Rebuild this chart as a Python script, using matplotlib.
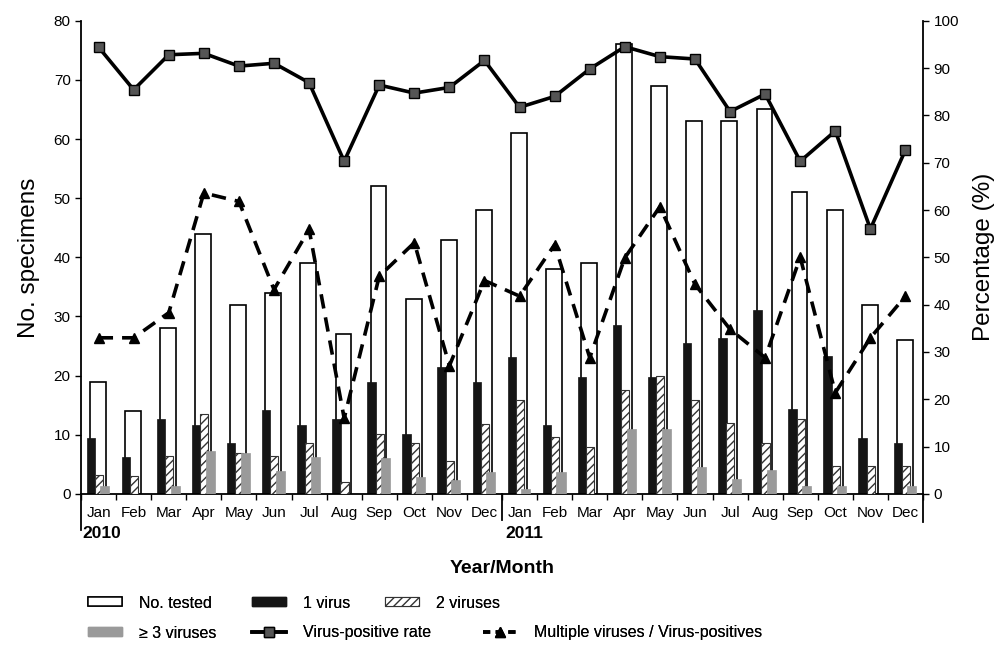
import numpy as np
import matplotlib.pyplot as plt
from matplotlib.patches import Patch
from matplotlib.lines import Line2D

plt.rcParams['font.family'] = ['Liberation Sans', 'DejaVu Sans']

months = ['Jan', 'Feb', 'Mar', 'Apr', 'May', 'Jun', 'Jul', 'Aug', 'Sep', 'Oct', 'Nov', 'Dec'] * 2
years = ['2010', '2011']

tested = [19, 14, 28, 44, 32, 34, 39, 27, 52, 33, 43, 48,
          61, 38, 39, 76, 69, 63, 63, 65, 51, 48, 32, 26]
one_virus = [9.4, 6.2, 12.6, 11.7, 8.7, 14.2, 11.7, 12.6, 19.0, 10.2, 21.4, 19.0,
             23.1, 11.7, 19.8, 28.6, 19.8, 25.5, 26.3, 31.1, 14.4, 23.4, 9.4, 8.7]
two_virus = [3.2, 3.1, 6.5, 13.5, 7.0, 6.5, 8.7, 2.1, 10.2, 8.6, 5.5, 11.8,
             15.9, 9.6, 8.0, 17.5, 20.0, 15.9, 12.0, 8.7, 12.7, 4.8, 4.8, 4.8]
three_plus = [1.3, 0, 1.4, 7.2, 7.0, 3.9, 6.3, 0, 6.0, 2.9, 2.3, 3.8,
              0.8, 3.8, 0, 11.0, 11.0, 4.5, 2.5, 4.1, 1.4, 1.4, 0, 1.3]
pos_rate = [94.4, 85.4, 92.8, 93.1, 90.4, 91.0, 86.9, 70.3, 86.4, 84.7, 85.9, 91.6,
            81.7, 84.0, 89.8, 94.5, 92.4, 91.9, 80.8, 84.5, 70.3, 76.7, 56.0, 72.7]
multi = [33.0, 33.0, 38.3, 63.6, 61.8, 43.2, 55.9, 16.0, 46.0, 53.1, 27.1, 45.1,
         41.8, 52.7, 28.8, 49.9, 60.7, 44.3, 34.8, 28.8, 50.0, 21.4, 33.0, 41.8]

x = np.arange(len(months))

fig = plt.figure(figsize=(9.97, 6.46), dpi=100)
ax = fig.add_axes([0.0813, 0.2353, 0.8445, 0.7327])

ax.bar(x - 0.02, tested, 0.45, color='white', edgecolor='black', linewidth=1.2, zorder=1)
ax.bar(x - 0.22, one_virus, 0.24, color='#151515', edgecolor='#151515', linewidth=0.5, zorder=2)
ax.bar(x + 0.01, two_virus, 0.23, color='white', edgecolor='#333333', linewidth=0.8,
       hatch='////', zorder=3)
ax.bar(x + 0.18, three_plus, 0.26, color='#9a9a9a', edgecolor='#9a9a9a', linewidth=0.5, zorder=4)

ax.set_xlim(-0.5, len(months) - 0.5)
ax.set_ylim(0, 80)
ax.set_yticks(range(0, 81, 10))
ax.set_xticks(np.arange(-0.5, len(months), 1.0))
ax.set_xticklabels([])
ax.tick_params(axis='x', length=4, direction='out', width=1)
ax.tick_params(axis='y', length=4, direction='out', width=1, labelsize=11)
ax.spines['top'].set_visible(False)
ax.spines['right'].set_visible(False)
for s in ['left', 'bottom']:
    ax.spines[s].set_linewidth(1.3)
ax.set_ylabel('No. specimens', fontsize=17.5, labelpad=10)

for i, m in enumerate(months):
    ax.text(i, -0.04, m, transform=ax.get_xaxis_transform(), ha='center', va='center', fontsize=11)
ax.text(-0.45, -0.083, years[0], transform=ax.get_xaxis_transform(), ha='left', va='center',
        fontsize=12.5, fontweight='bold')
ax.text(11.6, -0.083, years[1], transform=ax.get_xaxis_transform(), ha='left', va='center',
        fontsize=12.5, fontweight='bold')
ax.text(0.5, -0.157, 'Year/Month', transform=ax.transAxes, ha='center', va='center',
        fontsize=14, fontweight='bold')

# extended separators below the axis
ax.plot([0, 0], [0, -0.076], transform=ax.transAxes, color='black', lw=1.3, clip_on=False)
ax.plot([1, 1], [0, -0.059], transform=ax.transAxes, color='black', lw=1.3, clip_on=False)
ax.plot([11.5, 11.5], [0, -0.055], transform=ax.get_xaxis_transform(), color='black', lw=1.3,
        clip_on=False)

ax2 = ax.twinx()
ax2.plot(x, pos_rate, '-', color='black', lw=2.6, marker='s', markersize=7.5,
         markerfacecolor='#555555', markeredgecolor='black', zorder=5)
ax2.plot(x, multi, '--', color='black', lw=2.6, marker='^', markersize=7.5,
         markerfacecolor='black', markeredgecolor='black', dashes=(4, 2.5), zorder=5)
ax2.set_ylim(0, 100)
ax2.set_yticks(range(0, 101, 10))
ax2.tick_params(axis='y', length=4, direction='out', width=1, labelsize=11)
for s in ['top', 'left', 'bottom']:
    ax2.spines[s].set_visible(False)
ax2.spines['right'].set_linewidth(1.3)
ax2.set_ylabel('Percentage (%)', fontsize=17.5, labelpad=10)

entries = [
    (Patch(facecolor='white', edgecolor='black', linewidth=1.1), 'No. tested', 88, 603),
    (Patch(facecolor='#151515', edgecolor='#151515'), '1 virus', 252, 603),
    (Patch(facecolor='white', edgecolor='#333333', linewidth=0.8, hatch='////'), '2 viruses', 385, 603),
    (Patch(facecolor='#9a9a9a', edgecolor='#9a9a9a'), '\u2265 3 viruses', 88, 633),
    (Line2D([], [], color='black', lw=2.6, marker='s', markersize=7,
            markerfacecolor='#555555', markeredgecolor='black'), 'Virus-positive rate', 252, 633),
    (Line2D([], [], color='black', lw=2.6, ls='--', marker='^', markersize=7, dashes=(2, 1.5)),
     'Multiple viruses / Virus-positives', 483, 633),
]
for handle, label, px, py in entries:
    leg = fig.legend([handle], [label], loc='center left',
                     bbox_to_anchor=(px / 997, 1 - py / 646), frameon=False, fontsize=11.5,
                     handlelength=2.1, handleheight=0.5, handletextpad=1.1,
                     borderpad=0, borderaxespad=0)
    fig.add_artist(leg)

fig.savefig('out.png', dpi=100)
